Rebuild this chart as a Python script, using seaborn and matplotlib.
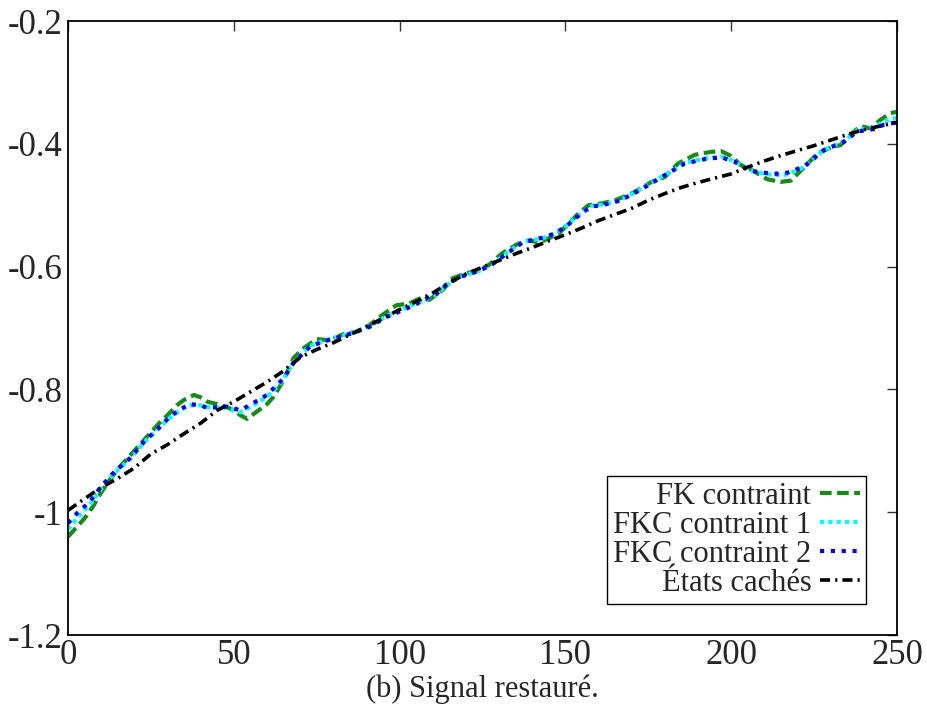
import numpy as np
import pandas as pd
import matplotlib
matplotlib.use("Agg")
import matplotlib.pyplot as plt
import seaborn as sns

# values
fk_x = [0, 5, 7.5, 10, 12.5, 15, 20, 22, 25, 28, 30, 33, 35, 38, 40, 42, 45, 48, 50, 52, 54,
        57, 60, 62, 65, 68, 71, 75, 79, 83, 87, 91, 95, 99, 103, 106, 109, 113, 116, 120, 124,
        127, 131, 136, 139, 142, 145, 148, 151, 154, 157, 161, 165, 170, 176, 180, 184, 189,
        194, 197, 200, 203, 206, 211, 215, 218, 222, 226, 230, 233, 236, 239, 242, 245, 248, 250]
fk_y = [-1.040, -1.010, -0.991, -0.968, -0.948, -0.930, -0.900, -0.888, -0.870, -0.852, -0.842,
        -0.825, -0.817, -0.809, -0.813, -0.820, -0.824, -0.829, -0.834, -0.842, -0.848, -0.836,
        -0.824, -0.812, -0.785, -0.749, -0.733, -0.718, -0.720, -0.710, -0.706, -0.695, -0.678,
        -0.663, -0.660, -0.652, -0.654, -0.638, -0.619, -0.611, -0.606, -0.597, -0.578, -0.562,
        -0.557, -0.561, -0.554, -0.546, -0.530, -0.513, -0.500, -0.497, -0.492, -0.481, -0.462,
        -0.454, -0.432, -0.418, -0.413, -0.412, -0.420, -0.435, -0.442, -0.458, -0.462, -0.460,
        -0.438, -0.416, -0.406, -0.402, -0.385, -0.371, -0.375, -0.361, -0.350, -0.348]

fkc_x = [0, 3, 6.6, 10, 13.7, 18.7, 23, 27.7, 30.8, 34, 36.8, 40, 42, 45, 48, 52, 55, 60, 63,
         65, 68, 73, 77, 81, 86, 91, 96, 101, 105, 108, 111, 114, 118, 124, 128, 132, 137, 140,
         143, 147, 151, 155, 158, 161, 166, 170, 176, 180, 186, 192, 197, 201, 205, 208, 213,
         217, 222, 228, 234, 238, 243, 246, 250]
fkc1_y = [-1.028, -1.008, -0.988, -0.962, -0.938, -0.913, -0.886, -0.862, -0.846, -0.833, -0.826,
          -0.826, -0.829, -0.829, -0.830, -0.837, -0.829, -0.812, -0.796, -0.784, -0.756, -0.729,
          -0.721, -0.715, -0.707, -0.697, -0.681, -0.669, -0.660, -0.653, -0.646, -0.631, -0.617,
          -0.607, -0.596, -0.579, -0.560, -0.557, -0.554, -0.546, -0.530, -0.512, -0.501, -0.499,
          -0.493, -0.482, -0.463, -0.451, -0.431, -0.424, -0.421, -0.428, -0.441, -0.447, -0.451,
          -0.450, -0.438, -0.410, -0.396, -0.378, -0.373, -0.364, -0.357]
fkc2_y = [-1.018, -1.000, -0.983, -0.958, -0.936, -0.912, -0.885, -0.861, -0.844, -0.832, -0.824,
          -0.826, -0.830, -0.829, -0.828, -0.834, -0.825, -0.809, -0.793, -0.782, -0.757, -0.730,
          -0.722, -0.716, -0.708, -0.698, -0.682, -0.671, -0.661, -0.652, -0.645, -0.630, -0.617,
          -0.607, -0.596, -0.580, -0.561, -0.557, -0.553, -0.546, -0.531, -0.512, -0.502, -0.500,
          -0.493, -0.483, -0.464, -0.451, -0.432, -0.425, -0.422, -0.429, -0.442, -0.446, -0.449,
          -0.447, -0.437, -0.410, -0.397, -0.380, -0.376, -0.369, -0.365]

hidden_x = [0, 5, 10, 15, 20, 25, 30, 35, 40, 45, 50, 55, 60, 65, 70, 75, 80, 85, 90, 95, 100,
            105, 110, 115, 120, 125, 130, 135, 140, 145, 150, 155, 160, 165, 170, 175, 180, 185,
            190, 195, 200, 205, 210, 215, 220, 225, 230, 235, 240, 245, 250]
hidden_y = [-0.997, -0.978, -0.960, -0.945, -0.928, -0.905, -0.890, -0.872, -0.855, -0.834,
            -0.820, -0.804, -0.788, -0.770, -0.748, -0.735, -0.724, -0.711, -0.698, -0.684,
            -0.670, -0.657, -0.643, -0.626, -0.612, -0.601, -0.590, -0.579, -0.569, -0.558,
            -0.548, -0.537, -0.525, -0.515, -0.505, -0.492, -0.481, -0.471, -0.463, -0.456,
            -0.449, -0.438, -0.428, -0.419, -0.411, -0.403, -0.394, -0.385, -0.377, -0.371, -0.365]

labels = ["FK contraint", "FKC contraint 1", "FKC contraint 2", "États cachés"]
x_ticks = [0, 50, 100, 150, 200, 250]
y_ticks = [-1.2, -1.0, -0.8, -0.6, -0.4, -0.2]
y_tick_labels = ["-1.2", "-1", "-0.8", "-0.6", "-0.4", "-0.2"]
caption = "(b) Signal restauré."

sns.set_style("white")
plt.rcParams['font.family'] = ['Liberation Serif', 'DejaVu Serif']

fig = plt.figure(figsize=(9.28, 7.06), dpi=100)
ax = fig.add_axes([68 / 928, 1 - 635 / 706, 829 / 928, 614 / 706])

sns.lineplot(x=fk_x, y=fk_y, ax=ax, color="#188a18", lw=3.0,
             linestyle=(0, (2.8, 1.3)), label=labels[0], errorbar=None)
sns.lineplot(x=fkc_x, y=fkc1_y, ax=ax, color="#00ffff", lw=3.0,
             linestyle=(0, (1, 1)), label=labels[1], errorbar=None)
sns.lineplot(x=fkc_x, y=fkc2_y, ax=ax, color="#0000ff", lw=3.0,
             linestyle=(0, (1, 1.6)), label=labels[2], errorbar=None)
sns.lineplot(x=hidden_x, y=hidden_y, ax=ax, color="black", lw=2.6,
             linestyle=(0, (2.8, 1.4, 0.6, 1.4)), label=labels[3], errorbar=None)

ax.set_xlim(0, 250)
ax.set_ylim(-1.2, -0.2)
ax.set_xticks(x_ticks)
ax.set_xticklabels([str(v) for v in x_ticks])
ax.set_yticks(y_ticks)
ax.set_yticklabels(y_tick_labels)
ax.tick_params(direction="in", length=7, width=1, top=True, right=True,
               labelsize=25, pad=4, color="#333333")
ax.tick_params(axis="x", pad=3)
for s in ax.spines.values():
    s.set_visible(True)
    s.set_color("black")
    s.set_linewidth(1.3)
ax.set_xlabel("")
ax.set_ylabel("")

leg = ax.legend(loc="lower right", bbox_to_anchor=(0.963, 0.05), borderaxespad=0,
                markerfirst=False, fontsize=22, frameon=True, fancybox=False,
                framealpha=1, edgecolor="black", handlelength=1.3, handletextpad=0.3,
                labelspacing=0.0, borderpad=0.2)
leg.get_frame().set_linewidth(1.0)

fig.text(482 / 928, 1 - 689 / 706, caption, ha="center", va="center", fontsize=22)

fig.savefig("out.png", dpi=100)
